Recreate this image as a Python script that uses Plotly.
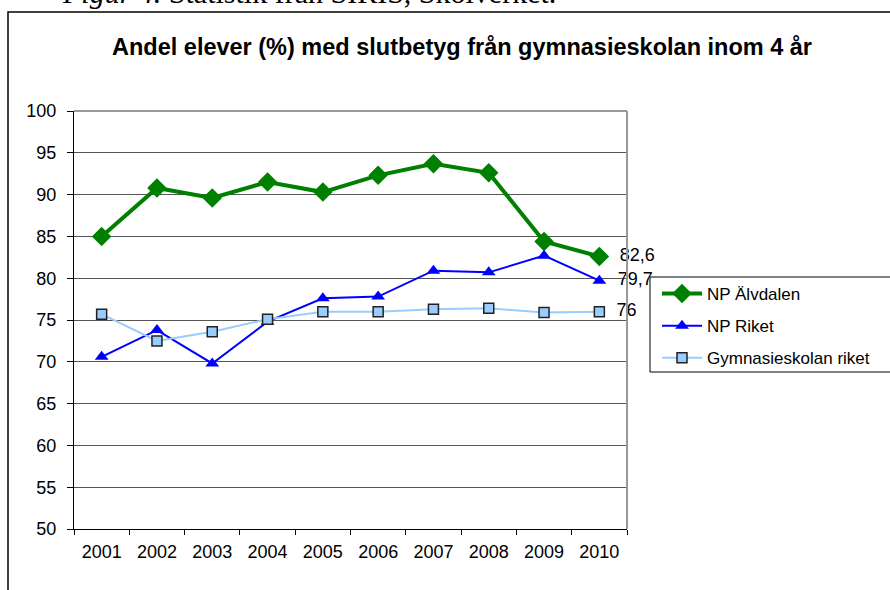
import plotly.graph_objects as go

years = ["2001", "2002", "2003", "2004", "2005", "2006", "2007", "2008", "2009", "2010"]
np_alvdalen = [85.0, 90.8, 89.6, 91.5, 90.3, 92.3, 93.7, 92.6, 84.4, 82.6]
np_riket = [70.6, 73.8, 69.8, 74.8, 77.6, 77.8, 80.9, 80.7, 82.7, 79.7]
gymn_riket = [75.7, 72.5, 73.6, 75.1, 76.0, 76.0, 76.3, 76.4, 75.9, 76.0]
end_labels = ["82,6", "79,7", "76"]
series_names = ["NP Älvdalen", "NP Riket", "Gymnasieskolan riket"]
title_text = "Andel elever (%) med slutbetyg från gymnasieskolan inom 4 år"
caption_text = "<i>Figur 4.</i> Statistik från SIRIS, Skolverket."

W, H = 890, 590
L, R, T, B = 74, 263, 111, 61
pw, ph = W - L - R, H - T - B


def px(x):
    return (x - L) / pw


def py(y):
    return (H - B - y) / ph


def last_only(vals, label):
    return [""] * (len(vals) - 1) + ["\u00a0\u00a0" + label]


lbl_font = dict(family="Liberation Sans", size=18, color="black")

fig = go.Figure()
fig.add_trace(go.Scatter(
    x=years, y=np_alvdalen, name=series_names[0], mode="lines+markers+text",
    line=dict(color="#008000", width=4),
    marker=dict(symbol="diamond", size=15, color="#008000"),
    text=last_only(np_alvdalen, end_labels[0]), textposition="middle right",
    textfont=lbl_font, legendgroup="a", cliponaxis=False,
))
fig.add_trace(go.Scatter(
    x=years, y=np_riket, name=series_names[1], mode="lines+markers+text",
    line=dict(color="#0000ff", width=2),
    marker=dict(symbol="triangle-up", size=12, color="#0000ff"),
    text=last_only(np_riket, end_labels[1]), textposition="middle right",
    textfont=lbl_font, legendgroup="b", cliponaxis=False,
))
fig.add_trace(go.Scatter(
    x=years, y=gymn_riket, name=series_names[2], mode="lines+markers+text",
    line=dict(color="#99ccff", width=2),
    marker=dict(symbol="square", size=10, color="#99ccff",
                line=dict(color="#222222", width=1.5)),
    text=last_only(gymn_riket, end_labels[2]), textposition="middle right",
    textfont=lbl_font, legendgroup="c", cliponaxis=False,
))

shapes = [
    # outer frame
    dict(type="rect", xref="paper", yref="paper",
         x0=px(8), x1=px(905), y0=py(605), y1=py(12),
         line=dict(color="black", width=1.5), fillcolor="rgba(0,0,0,0)", layer="above"),
    # plot border top / right (gray)
    dict(type="line", xref="paper", yref="paper", x0=0, x1=1, y0=1, y1=1,
         line=dict(color="#999999", width=2), layer="above"),
    dict(type="line", xref="paper", yref="paper", x0=1, x1=1, y0=0, y1=1,
         line=dict(color="#999999", width=2), layer="above"),
    # legend box
    dict(type="rect", xref="paper", yref="paper",
         x0=px(650), x1=px(905), y0=py(372), y1=py(277),
         line=dict(color="black", width=1), fillcolor="white", layer="above"),
]

fig.update_layout(
    width=W, height=H,
    margin=dict(l=L, r=R, t=T, b=B),
    paper_bgcolor="white", plot_bgcolor="white",
    font=dict(family="Liberation Sans", size=18, color="black"),
    title=dict(text="<b>" + title_text + "</b>", x=462 / W, xanchor="center",
               y=1 - 47 / H, yanchor="middle", yref="container",
               font=dict(family="Liberation Sans", size=23.5, color="black")),
    showlegend=True,
    legend=dict(x=px(657), y=py(276), xanchor="left", yanchor="top",
                bgcolor="rgba(0,0,0,0)", borderwidth=0,
                font=dict(family="Liberation Sans", size=17, color="black"),
                itemwidth=40, tracegroupgap=7),
    xaxis=dict(type="category", range=[-0.5, 9.5], tickson="boundaries",
               ticks="outside", ticklen=5, ticklabelstandoff=6,
               tickcolor="black", showline=True, linecolor="black", linewidth=1,
               showgrid=False, tickfont=dict(size=18), fixedrange=True),
    yaxis=dict(range=[50, 100], dtick=5, ticks="outside", ticklen=6, tickcolor="black",
               ticklabelstandoff=7,
               showline=True, linecolor="black", linewidth=1,
               showgrid=True, gridcolor="#555555", gridwidth=1,
               tickfont=dict(size=18), zeroline=False, fixedrange=True),
    shapes=shapes,
    annotations=[dict(text=caption_text, xref="paper", yref="paper",
                      x=px(60), y=py(11), xanchor="left", yanchor="bottom",
                      showarrow=False,
                      font=dict(family="Liberation Serif", size=30, color="black"))],
)

fig.write_html("out.html", config={"displayModeBar": False},
               post_script="document.body.style.margin='0px';")
